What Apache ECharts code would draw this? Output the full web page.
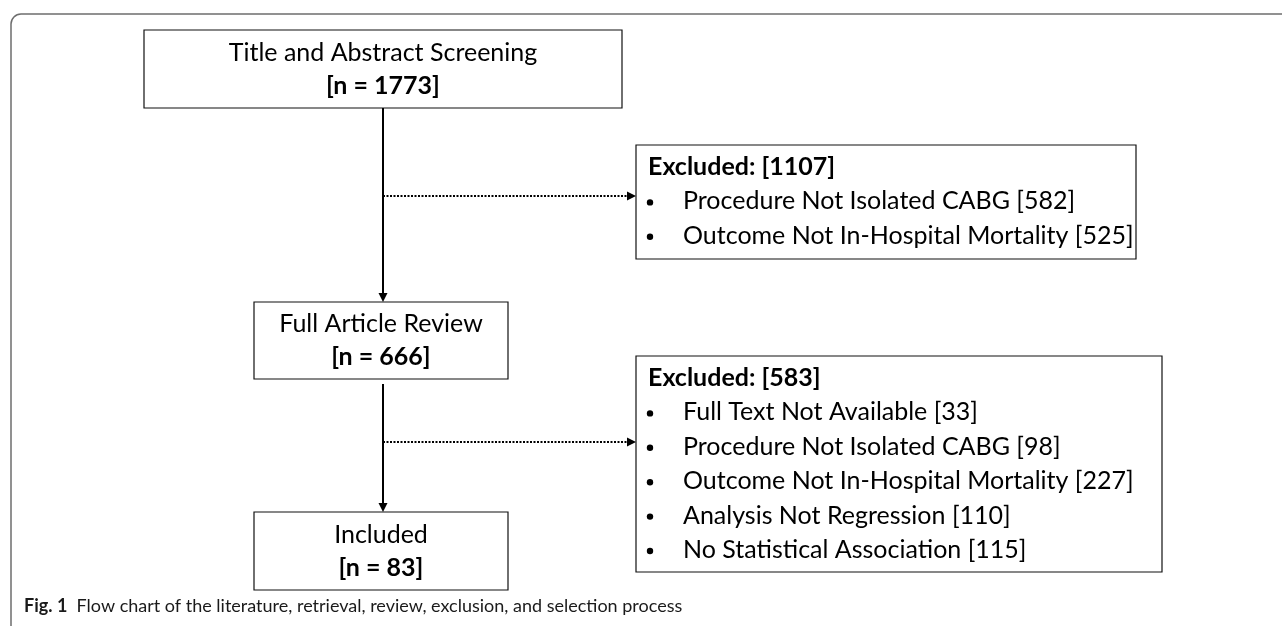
<!DOCTYPE html>
<html><head><meta charset="utf-8">
<script src="https://cdn.jsdelivr.net/npm/echarts@6/dist/echarts.min.js"></script>
<style>html,body{margin:0;padding:0;background:#fff}#c{width:1282px;height:626px}</style>
</head><body><div id="c"></div>
<script>
// ---- data ----
const stageNames = ['Title and Abstract Screening', 'Full Article Review', 'Included'];
const stageCounts = [1773, 666, 83];
const exclusionTotals = [1107, 583];
const exclusionReasonsA = ['Procedure Not Isolated CABG', 'Outcome Not In-Hospital Mortality'];
const exclusionCountsA = [582, 525];
const exclusionReasonsB = ['Full Text Not Available', 'Procedure Not Isolated CABG', 'Outcome Not In-Hospital Mortality', 'Analysis Not Regression', 'No Statistical Association'];
const exclusionCountsB = [33, 98, 227, 110, 115];
const captionLabel = 'Fig. 1';
const captionText = 'Flow chart of the literature, retrieval, review, exclusion, and selection process';

// ---- layout (units of a hidden 1282 x 626 grid) ----
const layout = {
  stageBoxes: [[144, 30, 622, 108], [254, 302, 508, 379], [254, 512, 508, 590]],
  exclBoxes: [[636, 145, 1136, 259], [636, 356, 1162, 572]],
  spineX: 383,
  branchY: [196, 442],
  lineGap: 33,
  headOffset: 22,
  rowStep: 34.4,
  bulletX: 650,
  textX: 683,
  headX: 648,
  arrowHalf: 4.5
};
const FONT = 'Lato';
const FS = 25;

const exclReasons = [exclusionReasonsA, exclusionReasonsB];
const exclCounts = [exclusionCountsA, exclusionCountsB];

function renderStage(params, api) {
  const i = api.value(0);
  const b = layout.stageBoxes[i];
  const p0 = api.coord([b[0], b[1]]), p1 = api.coord([b[2], b[3]]);
  const cx = (p0[0] + p1[0]) / 2, cy = (p0[1] + p1[1]) / 2;
  return {
    type: 'group', children: [
      { type: 'rect', shape: { x: p0[0], y: p0[1], width: p1[0] - p0[0], height: p1[1] - p0[1] },
        style: { fill: '#fff', stroke: '#111', lineWidth: 1.2 } },
      { type: 'text', x: cx, y: cy - layout.lineGap / 2,
        style: { text: stageNames[i], fontFamily: FONT, fontSize: FS, fill: '#000', align: 'center', verticalAlign: 'middle' } },
      { type: 'text', x: cx, y: cy + layout.lineGap / 2,
        style: { text: '[n = ' + stageCounts[i] + ']', fontFamily: FONT, fontWeight: 'bold', fontSize: FS, fill: '#000', align: 'center', verticalAlign: 'middle' } }
    ]
  };
}

function renderExcl(params, api) {
  const i = api.value(0);
  const b = layout.exclBoxes[i];
  const p0 = api.coord([b[0], b[1]]), p1 = api.coord([b[2], b[3]]);
  const children = [
    { type: 'rect', shape: { x: p0[0], y: p0[1], width: p1[0] - p0[0], height: p1[1] - p0[1] },
      style: { fill: '#fff', stroke: '#111', lineWidth: 1.2 } },
    { type: 'text', x: api.coord([layout.headX, 0])[0], y: p0[1] + layout.headOffset,
      style: { text: 'Excluded: [' + exclusionTotals[i] + ']', fontFamily: FONT, fontWeight: 'bold', fontSize: FS, fill: '#000', align: 'left', verticalAlign: 'middle' } }
  ];
  exclReasons[i].forEach(function (r, k) {
    const y = p0[1] + layout.headOffset + (k + 1) * layout.rowStep;
    children.push({ type: 'circle', shape: { cx: api.coord([layout.bulletX, 0])[0], cy: y + 1, r: 3.2 },
      style: { fill: '#000' } });
    children.push({ type: 'text', x: api.coord([layout.textX, 0])[0], y: y,
      style: { text: r + ' [' + exclCounts[i][k] + ']', fontFamily: FONT, fontSize: FS, fill: '#000', align: 'left', verticalAlign: 'middle' } });
  });
  return { type: 'group', children: children };
}

const sb = layout.stageBoxes;
const ah = layout.arrowHalf;
const solidLinks = [
  { coords: [[layout.spineX, sb[0][3]], [layout.spineX, sb[1][1] - ah]] },
  { coords: [[layout.spineX, sb[1][3] + 5], [layout.spineX, sb[2][1] - ah]] }
];
const dottedLinks = layout.branchY.map(function (y, k) {
  return { coords: [[layout.spineX, y], [layout.exclBoxes[k][0] - ah, y]] };
});

const chart = echarts.init(document.getElementById('c'), null, { renderer: 'canvas' });
chart.setOption({
  animation: false,
  backgroundColor: '#fff',
  grid: { left: 0, right: 0, top: 0, bottom: 0 },
  xAxis: { type: 'value', min: 0, max: 1282, show: false },
  yAxis: { type: 'value', min: 0, max: 626, inverse: true, show: false },
  graphic: [
    { type: 'rect', z: 0, shape: { x: 11, y: 14, width: 1400, height: 800, r: 10 },
      style: { fill: 'none', stroke: '#6e6e6e', lineWidth: 1.5 } },
    { type: 'text', z: 10, x: 24, y: 606,
      style: { text: '{b|' + captionLabel + '}  ' + captionText, fontFamily: FONT, fontSize: 18, fill: '#1a1a1a',
        verticalAlign: 'middle', rich: { b: { fontFamily: FONT, fontSize: 18, fontWeight: 'bold', fill: '#1a1a1a' } } } }
  ],
  series: [
    { type: 'custom', coordinateSystem: 'cartesian2d', z: 2, clip: false, renderItem: renderStage,
      data: stageNames.map(function (n, i) { return [i, 0]; }) },
    { type: 'custom', coordinateSystem: 'cartesian2d', z: 2, clip: false, renderItem: renderExcl,
      data: exclusionTotals.map(function (n, i) { return [i, 0]; }) },
    { type: 'lines', coordinateSystem: 'cartesian2d', z: 6, symbol: ['none', 'triangle'], symbolSize: [9, 9],
      lineStyle: { color: '#000', width: 2, type: 'solid', opacity: 1 }, data: solidLinks },
    { type: 'lines', coordinateSystem: 'cartesian2d', z: 6, symbol: ['none', 'triangle'], symbolSize: [9, 9],
      lineStyle: { color: '#000', width: 2, type: [2, 1.5], opacity: 1 }, data: dottedLinks }
  ]
});
</script>
</body></html>
